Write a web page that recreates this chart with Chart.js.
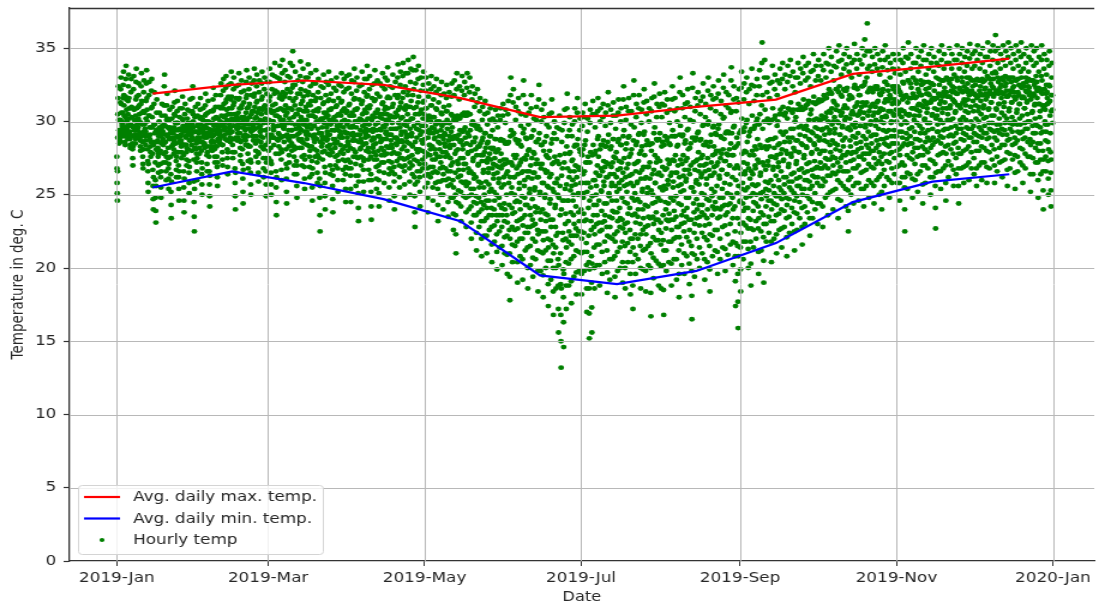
<!DOCTYPE html>
<html>
<head>
<meta charset="utf-8">
<title>Hourly temperature 2019</title>
<script src="https://cdn.jsdelivr.net/npm/chart.js@4.4.1/dist/chart.umd.min.js"></script>
<style>
  html, body { margin: 0; padding: 0; background: #fff; overflow: hidden; }
</style>
</head>
<body>
<!-- the source figure is stretched ~1.2x sideways, so the canvas is drawn 916 wide and shown 1099 wide -->
<canvas id="chart" width="916" height="603" style="display:block;width:1099px;height:603px"></canvas>
<script>
// hourly temp in tenths of deg C, read every 3 h (00,03,...,21) -> 8 values per day
const jan = [
276,258,246,289,316,324,301,285, 294,289,286,301,322,330,312,300,
299,295,290,306,325,334,318,304, 296,290,284,303,329,338,315,301,
300,294,288,305,324,332,316,302, 293,288,282,298,320,329,310,297,
290,281,270,296,322,331,308,294, 297,291,285,304,327,336,317,301,
298,294,289,302,318,326,311,300, 292,287,280,299,324,333,314,298,
286,276,268,293,320,328,306,291, 295,290,284,302,326,335,316,300,
281,266,252,290,318,327,304,288, 291,283,276,296,321,329,310,296,
278,256,240,284,312,320,298,286, 272,248,231,281,306,315,292,280,
287,276,265,290,300,306,296,290, 280,262,248,285,304,312,297,286,
293,284,272,298,324,332,311,297, 286,272,260,291,311,319,302,290,
282,268,254,288,301,308,296,288, 276,252,234,283,302,310,294,284,
292,285,278,296,313,321,304,294, 285,273,262,290,307,314,299,289,
279,262,246,286,303,309,295,285, 291,283,275,294,309,317,301,293,
277,255,238,284,305,312,296,284, 289,279,270,293,302,308,299,291,
281,265,251,287,307,315,299,287, 294,288,280,298,316,324,305,296,
274,245,225,282,303,310,293,281
];
const feb = [
285,272,260,289,304,312,298,288, 292,286,278,295,308,316,303,294,
280,264,250,286,301,309,296,284, 295,289,282,297,311,319,305,296,
289,277,266,292,306,314,300,290, 276,257,242,283,299,307,292,281,
294,287,280,299,315,323,308,297, 291,281,272,294,310,318,303,293,
283,269,256,288,302,310,297,286, 297,291,285,300,318,326,310,299,
290,279,270,297,321,329,312,295, 299,294,288,304,323,331,315,301,
287,275,264,293,317,325,309,292, 298,292,286,305,326,334,317,302,
293,284,275,300,322,330,313,297, 279,258,240,289,316,324,304,287,
300,295,289,306,325,333,316,302, 292,282,273,299,320,328,311,296,
281,261,244,290,313,321,303,288, 298,291,284,306,327,335,318,301,
290,278,268,298,322,330,312,295, 283,265,250,293,318,326,307,290,
299,294,287,307,328,336,319,302, 295,285,276,303,324,332,314,299,
287,272,259,296,320,328,309,293, 297,290,283,305,326,334,317,300,
289,275,262,299,322,330,311,294, 284,266,249,294,319,327,308,291
];
const mar = [
295,286,275,301,327,336,317,300, 282,265,250,291,322,332,311,289,
300,294,284,307,331,340,321,304, 278,255,236,288,320,330,308,287,
297,288,278,303,329,338,318,301, 289,274,260,298,333,342,320,296,
301,295,286,307,327,335,319,304, 281,261,244,291,322,331,309,289,
294,283,272,302,330,340,320,299, 299,290,280,308,338,348,325,303,
290,276,264,298,325,334,316,295, 282,264,248,291,319,328,308,288,
300,292,282,308,331,341,322,303, 294,282,270,301,327,336,317,298,
285,269,254,293,321,330,310,291, 301,293,284,307,330,339,320,304,
291,276,262,298,324,333,314,295, 283,264,246,290,318,326,307,288,
297,286,276,303,326,335,316,300, 288,272,258,295,320,329,309,292,
275,248,225,286,316,324,302,283, 296,285,274,302,323,332,313,299,
280,258,240,289,318,327,306,287, 298,288,278,304,325,334,315,301,
291,277,264,298,319,328,309,294, 279,256,238,288,314,323,303,285,
294,282,270,300,321,330,311,297, 286,268,252,294,316,325,305,290,
298,289,279,304,324,333,314,300, 289,274,260,296,320,329,309,293,
283,264,245,292,322,331,307,289
];
const apr = [
292,280,268,300,323,332,312,296, 282,263,245,291,319,328,306,287,
297,287,276,304,327,336,316,300, 287,271,256,296,321,330,309,291,
275,251,232,286,315,324,302,281, 294,282,270,301,325,334,314,297,
284,267,252,293,320,329,308,289, 300,291,280,306,329,338,318,302,
290,274,260,298,322,331,311,294, 276,252,233,287,316,325,304,282,
295,284,274,303,326,335,315,298, 285,269,254,294,319,328,308,290,
280,260,242,290,317,326,305,286, 294,282,272,302,324,333,313,297,
288,272,258,296,322,330,310,292, 298,288,278,305,328,337,317,301,
282,264,246,291,316,324,304,287, 291,278,266,299,323,332,312,295,
279,259,240,289,318,327,306,285, 295,284,273,304,330,339,318,299,
286,270,255,296,325,334,313,291, 293,281,269,303,331,340,320,298,
283,266,248,293,324,333,311,289, 297,286,275,305,333,342,321,300,
285,268,250,295,327,336,314,290, 292,277,264,302,335,344,322,297,
274,249,228,286,326,335,310,281, 289,273,259,299,329,338,317,294,
281,262,242,291,321,330,308,287, 293,280,268,302,325,334,314,297
];
const may = [
288,271,255,297,321,330,309,293, 278,258,238,289,317,326,304,284,
292,277,262,300,322,331,311,296, 283,265,246,292,315,324,303,288,
289,274,258,298,320,329,308,293, 276,254,232,286,313,322,300,281,
285,268,250,294,318,327,305,290, 279,260,240,288,310,319,299,285,
291,276,260,299,316,325,307,295, 277,256,235,287,311,320,299,282,
284,266,248,293,317,326,304,288, 272,248,226,284,318,328,302,278,
265,236,210,280,322,333,304,273, 281,262,244,291,315,324,302,286,
275,252,232,287,321,331,305,281, 284,267,249,294,318,327,304,289,
271,248,228,285,323,333,306,278, 279,258,240,290,320,330,305,284,
266,242,220,280,315,324,300,273, 275,254,236,286,310,319,297,281,
262,236,212,277,313,322,297,270, 271,248,228,283,307,316,294,277,
258,232,208,273,301,310,289,265, 267,243,222,279,305,314,292,273,
259,234,210,272,298,306,286,265, 268,246,226,278,301,309,290,274,
254,228,204,268,294,302,282,261, 264,240,218,275,300,308,288,270,
250,223,199,265,296,304,281,258, 261,236,214,273,301,309,288,268,
255,228,202,270,304,312,287,262
];
const jun = [
257,232,210,271,299,308,285,264, 250,222,196,266,305,314,286,258,
243,210,178,262,318,330,294,251, 255,228,204,270,313,322,292,262,
262,238,215,275,301,310,287,268, 246,218,190,264,307,316,287,254,
258,233,208,272,297,305,283,265, 249,220,192,266,318,328,295,256,
260,236,212,274,304,312,288,266, 243,214,186,262,298,306,281,251,
254,228,202,270,309,318,290,261, 247,220,194,265,294,302,278,253,
255,230,206,271,301,310,286,262, 241,212,184,262,315,325,292,250,
252,225,198,268,300,308,284,258, 240,210,180,258,303,312,286,248,
250,225,200,265,290,298,276,256, 236,205,174,255,296,305,280,244,
247,219,192,264,306,315,288,254, 233,200,168,252,292,300,276,241,
243,214,186,258,288,296,273,250, 224,188,156,248,295,304,277,236,
210,168,132,240,286,294,268,224, 219,180,146,246,299,308,278,230,
237,204,172,257,309,319,290,246, 246,218,188,262,294,303,279,253,
238,206,176,256,290,298,274,246, 250,222,194,266,300,309,284,257,
242,212,182,262,306,316,288,250, 251,225,198,267,294,302,279,258
];
const jul = [
240,210,182,258,297,306,281,248, 251,224,198,266,303,312,287,258,
233,202,170,252,293,302,276,241, 222,186,152,246,299,308,279,232,
226,190,156,249,305,314,284,236, 243,214,186,260,296,305,280,250,
256,230,202,270,307,316,290,263, 246,216,188,263,300,309,284,253,
252,226,196,266,303,312,287,259, 256,232,204,269,297,306,283,262,
244,212,183,262,311,320,291,251, 249,221,192,264,299,308,283,256,
258,234,206,272,304,313,288,264, 238,208,180,256,295,304,279,246,
252,225,198,267,306,315,288,258, 254,228,200,268,300,309,284,260,
248,218,190,265,315,324,294,256, 245,215,186,262,301,310,285,252,
257,231,204,271,307,316,290,263, 241,211,182,258,298,307,281,248,
236,204,172,256,318,328,296,246, 251,223,196,266,303,312,286,258,
259,235,206,273,309,318,292,265, 245,215,186,261,299,308,283,252,
254,226,199,269,313,322,293,261, 243,213,184,262,305,314,287,251,
255,229,202,269,300,309,284,261, 234,200,167,253,307,316,285,244,
250,221,193,267,317,326,296,258, 258,233,205,272,303,312,287,264,
248,219,188,265,310,319,292,255
];
const aug = [
246,216,186,263,303,312,286,253, 236,202,168,256,311,320,290,245,
254,227,198,268,306,315,289,260, 257,232,204,271,299,308,284,263,
248,218,188,265,315,324,294,255, 259,233,206,273,307,316,290,265,
249,221,192,265,300,309,284,256, 244,212,180,262,320,330,297,252,
257,230,202,271,309,318,291,263, 253,225,196,267,303,312,287,259,
261,235,208,275,313,322,295,267, 248,218,189,264,301,310,285,255,
233,198,165,255,323,333,300,244, 252,224,194,267,307,316,289,258,
260,234,206,274,311,320,293,266, 257,229,200,270,305,314,288,262,
264,238,210,277,317,326,298,270, 250,221,192,266,303,312,286,257,
261,234,204,275,321,330,300,267, 246,215,184,263,309,318,291,254,
263,236,208,277,315,324,297,269, 265,240,212,278,307,316,291,270,
256,226,196,272,319,328,298,263, 261,235,206,275,305,314,289,267,
267,242,214,281,323,332,303,273, 258,229,198,273,311,320,293,264,
264,238,209,277,309,318,292,270, 270,244,216,285,328,337,307,277,
262,234,202,277,315,324,297,268, 242,208,174,260,307,316,289,251,
234,196,159,256,313,322,292,245
];
const sep = [
246,214,184,264,323,334,302,254, 258,231,206,272,315,326,296,264,
266,241,218,279,320,330,301,271, 255,227,200,268,312,322,293,261,
249,218,188,266,325,336,304,257, 264,239,214,277,314,324,297,270,
268,244,220,281,318,329,302,274, 257,227,196,272,324,335,305,263,
265,238,212,282,340,354,318,272, 252,221,190,270,330,342,308,259,
267,242,218,281,320,330,302,273, 270,246,224,283,316,326,300,276,
260,232,204,276,327,338,309,267, 269,244,220,282,322,332,304,275,
263,236,210,277,318,328,300,269, 272,249,226,285,326,336,308,278,
266,240,214,281,329,340,310,273, 274,251,228,286,322,332,306,280,
262,234,208,278,327,338,309,269, 271,247,224,286,331,342,313,278,
276,253,230,289,324,334,308,282, 265,238,212,280,320,330,303,271,
273,249,226,287,330,340,312,279, 279,256,234,291,326,336,310,285,
268,241,216,284,333,344,315,275, 277,254,230,290,328,338,311,283,
282,260,238,294,330,340,314,288, 272,247,222,287,324,334,308,278,
279,256,234,292,335,346,317,285, 284,262,240,296,328,338,313,290
];
const oct = [
281,258,230,295,331,342,315,287, 289,268,244,301,328,338,314,294,
280,256,228,295,335,346,318,287, 291,270,248,303,330,340,316,296,
286,263,236,300,339,350,322,292, 294,274,252,306,334,344,319,298,
287,265,240,300,328,338,313,292, 295,275,254,308,337,348,322,300,
284,260,234,299,341,352,324,291, 291,269,246,304,332,342,317,296,
297,277,256,309,336,346,321,301, 289,266,242,303,339,350,323,295,
279,253,225,296,334,344,318,287, 294,273,250,305,330,340,316,298,
290,268,244,305,342,353,325,296, 299,279,258,311,336,346,322,304,
292,270,246,305,332,342,318,297, 297,276,254,310,339,350,324,302,
290,266,242,306,345,356,327,296, 298,278,256,313,348,367,336,304,
293,271,248,307,338,348,323,298, 300,280,258,311,334,344,320,304,
291,268,244,306,339,350,324,297, 301,282,260,313,336,346,322,306,
295,273,250,307,332,342,318,300, 288,264,240,303,337,348,322,294,
299,278,256,313,342,352,327,304, 303,284,262,315,335,344,321,307,
294,272,248,307,330,340,316,299, 300,279,258,312,336,346,322,305,
304,285,264,315,333,342,320,308
];
const nov = [
300,280,258,312,336,346,322,305, 293,270,246,307,332,342,318,298,
303,283,262,315,340,350,326,307, 285,255,225,300,334,344,318,292,
299,277,254,313,343,354,328,304, 305,285,264,316,336,346,323,309,
296,274,248,309,330,340,317,301, 304,282,260,316,340,350,326,308,
299,276,252,311,334,344,320,304, 307,287,266,318,338,348,325,311,
295,270,244,310,342,352,327,301, 302,281,258,313,332,342,319,306,
309,289,268,319,336,346,323,313, 299,274,250,313,340,350,326,304,
305,284,262,316,334,344,321,309, 286,256,227,302,330,340,316,293,
308,287,266,319,338,348,325,312, 301,278,254,314,342,352,328,306,
309,289,268,320,336,346,323,313, 295,270,246,309,330,340,317,301,
305,284,262,317,340,350,326,309, 311,291,270,321,336,346,324,315,
302,278,256,314,332,342,320,306, 307,286,264,319,342,352,328,311,
295,268,244,311,336,346,322,301, 309,288,268,321,340,350,327,313,
303,280,258,315,334,344,321,307, 311,291,270,322,338,348,326,315,
306,283,260,318,343,353,329,310, 310,289,268,321,336,346,324,314
];
const dec = [
307,286,264,319,338,348,325,311, 302,280,256,316,342,352,328,307,
310,290,270,321,336,346,324,314, 305,283,260,318,340,350,327,309,
311,292,272,322,334,344,323,315, 303,280,258,317,344,354,330,308,
309,289,268,321,338,348,326,313, 313,294,274,324,342,352,329,317,
304,281,258,319,348,359,333,309, 308,287,266,321,340,350,327,312,
312,292,272,323,336,346,325,316, 306,284,262,319,342,352,328,310,
313,294,274,324,338,348,326,317, 302,279,256,317,344,354,329,307,
309,288,268,321,340,350,327,313, 313,293,274,323,336,346,324,317,
300,277,254,315,342,352,328,306, 308,287,266,320,338,348,325,312,
312,292,272,324,344,354,330,316, 304,281,258,317,336,346,324,309,
309,289,268,321,340,350,327,313, 314,295,276,324,334,344,323,318,
300,276,252,315,342,352,328,306, 307,286,264,319,338,348,325,311,
312,292,272,323,340,350,327,316, 297,272,248,312,334,344,322,303,
307,285,264,320,342,352,328,311, 293,266,240,309,336,346,322,300,
308,287,266,319,332,342,320,312, 298,273,250,313,338,348,324,304,
292,265,242,307,330,340,318,299
];

// extra readings at 01:30, 04:30, 07:30, 10:30, 19:30 -> 5 values per day, tenths of deg C
const janX = [
268,251,266,305,294, 291,287,293,313,306, 297,292,298,316,311, 293,286,293,317,308,
296,291,297,314,309, 290,284,291,309,303, 285,275,283,309,301, 294,288,294,315,309,
296,291,296,310,305, 289,283,290,312,306, 281,271,281,307,298, 292,287,293,314,308,
273,258,271,304,296, 287,279,286,309,303, 267,247,262,298,292, 260,239,256,294,286,
282,270,278,295,293, 271,255,266,295,291, 288,278,285,311,304, 279,266,276,301,296,
275,261,271,295,292, 264,243,259,293,289, 288,281,287,305,299, 279,267,276,299,294,
270,254,266,295,290, 287,279,285,302,297, 266,246,261,295,290, 284,274,282,298,295,
273,258,269,297,293, 291,284,289,307,300, 259,235,254,293,287
];
const febX = [
278,266,275,297,293, 289,282,287,302,298, 272,257,268,294,290, 292,285,290,304,300,
283,271,279,299,295, 266,249,263,291,286, 290,283,290,307,302, 286,276,283,302,298,
276,262,272,295,291, 294,288,293,309,304, 284,274,284,309,303, 296,291,296,313,308,
281,269,279,305,300, 295,289,296,315,309, 288,279,288,311,305, 268,249,265,302,295,
297,292,298,315,309, 287,277,286,309,303, 271,252,267,301,295, 294,287,295,316,309,
284,273,283,310,303, 274,257,272,305,298, 296,290,297,317,310, 290,280,290,313,306,
279,265,278,308,301, 293,286,294,315,308, 282,268,281,310,302, 275,257,272,306,299
];
const marX = [
290,280,288,314,308, 273,257,271,306,300, 297,289,296,319,312, 266,245,262,304,297,
292,283,291,316,309, 281,267,279,315,308, 298,290,297,317,311, 271,252,268,306,299,
288,277,287,316,309, 294,285,294,323,314, 283,270,281,311,305, 273,256,270,305,298,
296,287,295,319,312, 288,276,286,314,307, 277,261,274,307,300, 297,288,296,318,312,
283,269,280,311,304, 273,255,268,304,297, 291,281,289,314,308, 280,265,277,307,300,
261,236,256,301,292, 290,279,288,312,306, 269,249,265,303,296, 293,283,291,314,308,
284,270,281,308,301, 267,247,263,300,294, 288,276,285,310,304, 277,260,273,305,297,
293,284,291,313,307, 281,267,278,308,301, 273,254,269,306,298
];
const aprX = [
286,274,284,311,304, 272,254,268,304,296, 292,281,290,315,308, 279,263,276,308,300,
263,241,259,300,291, 288,276,286,312,305, 275,259,273,306,298, 295,285,293,317,310,
282,267,279,309,302, 264,242,260,301,293, 289,279,288,314,306, 277,261,274,306,299,
270,251,266,303,295, 288,277,287,312,305, 280,265,277,308,301, 293,283,291,316,309,
273,255,268,303,295, 284,272,282,310,303, 269,249,264,303,295, 289,278,288,316,308,
278,262,275,310,302, 287,275,286,316,309, 274,257,270,308,300, 291,280,290,318,310,
276,259,272,310,302, 284,270,283,318,309, 262,238,257,305,295, 281,266,279,313,305,
271,252,266,306,297, 287,274,285,313,305
];
const mayX = [
279,263,276,309,301, 268,248,264,303,294, 284,269,281,311,303, 274,255,269,303,295,
281,266,278,309,300, 265,243,259,299,290, 276,259,272,306,297, 269,250,264,299,292,
283,268,279,307,301, 266,245,261,299,290, 275,257,270,305,296, 260,237,255,301,290,
250,223,245,301,288, 271,253,267,303,294, 263,242,259,304,293, 275,258,271,306,296,
259,238,256,304,292, 268,249,265,305,294, 254,231,250,298,286, 264,245,261,298,289,
249,224,244,295,283, 259,238,255,295,285, 245,220,240,287,277, 255,232,250,292,282,
246,222,241,285,275, 257,236,252,290,282, 241,216,236,281,271, 252,229,246,288,279,
236,211,232,280,269, 248,225,243,287,278, 241,215,236,287,274
];
const junX = [
244,221,240,285,274, 236,209,231,285,272, 226,194,220,290,272, 241,216,237,291,277,
250,226,245,288,277, 232,204,227,285,270, 245,220,240,284,274, 234,206,229,292,275,
248,224,243,289,277, 228,200,224,280,266, 241,215,236,289,275, 233,207,229,279,265,
242,218,238,286,274, 226,198,223,288,271, 238,211,233,284,271, 225,195,219,280,267,
237,212,232,277,266, 220,189,214,275,262, 233,205,228,285,271, 216,184,210,272,258,
228,200,222,273,261, 206,172,202,271,256, 189,150,186,263,246, 199,163,196,272,254,
220,188,214,283,268, 232,203,225,278,266, 222,191,216,273,260, 236,208,230,283,270,
227,197,222,284,269, 238,211,232,281,268
];
const julX = [
225,196,220,277,264, 237,211,232,284,272, 217,186,211,272,258, 204,169,199,272,255,
208,173,203,277,260, 228,200,223,278,265, 243,216,236,288,276, 231,202,225,281,268,
239,211,231,284,273, 244,218,236,283,272, 228,197,222,286,271, 235,206,228,281,269,
246,220,239,288,276, 223,194,218,275,262, 238,211,232,286,273, 241,214,234,284,272,
233,204,227,290,275, 230,200,224,281,268, 244,217,237,289,276, 226,196,220,278,264,
220,188,214,287,271, 237,209,231,284,272, 247,220,240,291,278, 230,200,223,280,267,
240,212,234,291,277, 228,198,223,284,269, 242,215,235,285,272, 217,183,210,280,264,
235,207,230,292,277, 245,219,238,288,275, 233,203,226,288,273
];
const augX = [
231,201,224,283,269, 219,185,212,284,267, 240,212,233,287,274, 244,218,237,285,273,
233,203,226,290,274, 246,220,239,290,277, 235,206,228,283,270, 228,196,221,291,274,
243,216,236,290,277, 239,210,231,285,273, 248,221,241,294,281, 233,203,226,282,270,
215,181,210,289,272, 238,209,230,287,273, 247,220,240,292,279, 243,214,235,287,275,
251,224,243,297,284, 236,206,229,284,271, 247,219,240,298,283, 230,199,223,286,272,
249,222,242,296,283, 252,226,245,292,280, 241,211,234,295,280, 248,220,240,290,278,
254,228,248,302,288, 243,213,236,292,278, 251,223,243,293,281, 257,230,250,306,292,
248,218,240,296,282, 225,191,217,283,270, 215,177,208,285,268
];
const sepX = [
230,199,224,294,278, 244,218,239,293,280, 253,229,248,299,286, 241,213,234,290,277,
233,203,227,295,280, 251,226,245,295,283, 256,232,250,300,288, 242,211,234,298,284,
251,225,247,311,295, 236,205,230,300,283, 254,230,249,300,287, 258,235,253,299,288,
246,218,240,301,288, 256,232,251,302,289, 249,223,243,297,284, 260,237,255,305,293,
253,227,247,305,291, 262,239,257,304,293, 248,221,243,302,289, 259,235,255,308,295,
264,241,259,306,295, 251,225,246,300,287, 261,237,256,308,296, 267,245,262,308,297,
254,228,250,308,295, 265,242,260,309,297, 271,249,266,312,301, 259,234,254,305,293,
267,245,263,313,301, 273,251,268,312,302
];
const octX = [
269,244,262,313,301, 278,256,272,314,304, 268,242,261,315,302, 280,259,275,316,306,
274,250,268,319,307, 284,263,279,320,309, 276,253,270,314,303, 285,264,281,322,311,
272,247,266,320,307, 280,258,275,318,306, 287,266,283,322,311, 277,254,272,321,309,
266,239,260,315,302, 283,262,278,317,307, 279,256,274,323,310, 289,268,285,323,313,
281,258,276,318,307, 286,265,282,324,313, 278,254,274,325,311, 288,267,284,330,320,
282,260,278,322,310, 290,269,285,322,312, 280,256,275,322,310, 291,271,287,324,314,
284,262,279,319,309, 276,252,271,320,308, 288,267,285,327,315, 293,273,289,325,314,
283,260,278,318,307, 290,268,285,324,313, 294,275,290,324,314
];
const novX = [
290,269,285,324,313, 281,258,277,320,308, 293,272,289,327,316, 270,240,262,317,305,
288,265,284,328,316, 295,275,290,326,316, 285,261,279,319,309, 293,271,288,328,317,
288,264,282,322,312, 297,277,292,328,318, 283,257,277,326,314, 292,270,286,322,312,
299,279,294,327,318, 287,262,282,326,315, 295,273,289,325,315, 271,241,265,316,304,
298,277,293,329,318, 290,266,285,328,317, 299,279,294,328,318, 283,258,278,320,309,
295,273,290,328,317, 301,281,296,329,320, 290,267,285,323,313, 297,275,292,330,319,
282,256,278,323,311, 299,278,295,330,320, 292,269,287,324,314, 301,281,296,330,320,
295,272,289,330,319, 300,279,295,328,319
];
const decX = [
297,275,292,328,318, 291,268,286,329,317, 300,280,296,328,319, 294,272,289,329,318,
302,282,297,328,319, 292,269,288,331,319, 299,279,295,329,319, 304,284,299,333,323,
293,270,289,334,321, 298,276,294,330,319, 302,282,298,329,320, 295,273,291,330,319,
304,284,299,331,321, 291,267,287,330,318, 299,278,295,330,320, 303,284,298,330,320,
289,265,285,328,317, 298,276,293,329,318, 302,282,298,334,323, 293,270,288,326,316,
299,278,295,330,320, 305,286,300,329,320, 288,264,284,328,317, 297,275,292,328,318,
302,282,298,331,321, 285,260,280,323,312, 296,274,292,331,319, 280,253,274,322,311,
298,276,293,325,316, 286,261,281,325,314, 279,253,274,318,308
];

const monthStart = [0, 31, 59, 90, 120, 151, 181, 212, 243, 273, 304, 334];
const readingHours = [0, 3, 6, 9, 12, 15, 18, 21];
const extraHours = [1.5, 4.5, 7.5, 10.5, 19.5];

// monthly averages of daily max / min, placed on the 15th of each month (day of year)
const midMonthDay = [14, 45, 73, 104, 134, 165, 195, 226, 257, 287, 318, 348];
const avgMax = [31.9, 32.5, 32.8, 32.5, 31.6, 30.3, 30.4, 31.0, 31.5, 33.25, 33.75, 34.3];
const avgMin = [25.5, 26.6, 25.8, 24.7, 23.2, 19.5, 18.9, 19.8, 21.7, 24.5, 25.9, 26.4];

// axis ticks
const tickDays = [0, 59, 120, 181, 243, 304, 365];
const tickLabels = ['2019-Jan', '2019-Mar', '2019-May', '2019-Jul', '2019-Sep', '2019-Nov', '2020-Jan'];
const yTicks = [0, 5, 10, 15, 20, 25, 30, 35];

const FONT = 'DejaVu Sans';
const TEXT = '#262626';
const SPINE = '#333333';

const months = [jan, feb, mar, apr, may, jun, jul, aug, sep, oct, nov, dec];
const monthsX = [janX, febX, marX, aprX, mayX, junX, julX, augX, sepX, octX, novX, decX];
const hourly = [];
function addReadings(list, hours) {
  list.forEach((vals, m) => {
    vals.forEach((v, i) => {
      const day = Math.floor(i / hours.length);
      hourly.push({ x: monthStart[m] + day + hours[i % hours.length] / 24, y: v / 10 });
    });
  });
}
addReadings(months, readingHours);
addReadings(monthsX, extraHours);

// matplotlib draws the grid over the scatter but under the lines
const gridOverDots = {
  id: 'gridOverDots',
  afterDatasetDraw(chart, args) {
    if (args.meta.type !== 'scatter') return;
    const { ctx, chartArea: a, scales } = chart;
    ctx.save();
    ctx.beginPath();
    ctx.rect(a.left, a.top, a.right - a.left, a.bottom - a.top);
    ctx.clip();
    ctx.strokeStyle = '#b8b8b8';
    ctx.lineWidth = 1;
    ctx.beginPath();
    yTicks.forEach(v => {
      const py = Math.round(scales.y.getPixelForValue(v)) + 0.5;
      ctx.moveTo(a.left, py); ctx.lineTo(a.right, py);
    });
    tickDays.forEach(d => {
      const px = Math.round(scales.x.getPixelForValue(d)) + 0.5;
      ctx.moveTo(px, a.top); ctx.lineTo(px, a.bottom);
    });
    ctx.stroke();
    ctx.restore();
  }
};

// top spine + legend box in the lower left corner
const frameAndLegend = {
  id: 'frameAndLegend',
  afterDraw(chart) {
    const { ctx, chartArea: a } = chart;
    ctx.save();
    ctx.strokeStyle = SPINE;
    ctx.lineWidth = 1.3;
    ctx.beginPath();
    ctx.moveTo(a.left, a.top + 0.5); ctx.lineTo(a.right, a.top + 0.5);
    ctx.stroke();

    const bx = 65, by = 485, bw = 204, bh = 69;
    ctx.fillStyle = 'rgba(255,255,255,0.8)';
    ctx.strokeStyle = '#d4d4d4';
    ctx.lineWidth = 1;
    ctx.beginPath();
    ctx.roundRect(bx + 0.5, by + 0.5, bw, bh, 3);
    ctx.fill();
    ctx.stroke();

    ctx.font = `14px "${FONT}"`;
    ctx.textBaseline = 'middle';
    ctx.textAlign = 'left';
    const rowY = [497, 518.5, 540];
    chart.data.datasets.forEach((ds, i) => {
      const y = rowY[i];
      if (ds.type === 'line') {
        ctx.strokeStyle = ds.borderColor;
        ctx.lineWidth = 2.2;
        ctx.beginPath();
        ctx.moveTo(70, y); ctx.lineTo(100, y);
        ctx.stroke();
      } else {
        ctx.fillStyle = ds.backgroundColor;
        ctx.beginPath();
        ctx.arc(85, y, 2.1, 0, Math.PI * 2);
        ctx.fill();
      }
      ctx.fillStyle = TEXT;
      ctx.fillText(ds.label, 111, y + 0.5);
    });
    ctx.restore();
  }
};

new Chart(document.getElementById('chart'), {
  type: 'scatter',
  data: {
    datasets: [
      {
        type: 'line',
        label: 'Avg. daily max. temp.',
        data: midMonthDay.map((d, i) => ({ x: d, y: avgMax[i] })),
        borderColor: '#ff0000',
        borderWidth: 2.2,
        pointRadius: 0,
        tension: 0,
        fill: false,
        order: 0
      },
      {
        type: 'line',
        label: 'Avg. daily min. temp.',
        data: midMonthDay.map((d, i) => ({ x: d, y: avgMin[i] })),
        borderColor: '#0000ff',
        borderWidth: 2.2,
        pointRadius: 0,
        tension: 0,
        fill: false,
        order: 0
      },
      {
        type: 'scatter',
        label: 'Hourly temp',
        data: hourly,
        backgroundColor: '#008000',
        borderColor: '#008000',
        borderWidth: 0,
        pointRadius: 2.45,
        order: 1
      }
    ]
  },
  options: {
    responsive: false,
    devicePixelRatio: 1,
    animation: false,
    events: [],
    layout: { padding: { top: 8, left: 0, right: 0, bottom: 0 } },
    plugins: { legend: { display: false }, tooltip: { enabled: false } },
    scales: {
      x: {
        type: 'linear',
        min: -18.4,
        max: 381.1,
        afterBuildTicks: s => { s.ticks = tickDays.map(v => ({ value: v })); },
        afterFit: s => { s.height = 42; s.paddingLeft = 0; s.paddingRight = 0; },
        grid: { drawOnChartArea: false, drawTicks: true, tickLength: 5, tickColor: SPINE, tickWidth: 1 },
        border: { display: true, color: SPINE, width: 1.3 },
        ticks: {
          autoSkip: false, maxRotation: 0, padding: 4,
          color: TEXT, font: { family: FONT, size: 14 },
          callback: (v, i) => tickLabels[i]
        },
        title: { display: true, text: 'Date', color: TEXT, font: { family: FONT, size: 13.5 }, padding: { top: 0, bottom: -3 } }
      },
      y: {
        type: 'linear',
        min: 0,
        max: 37.75,
        afterBuildTicks: s => { s.ticks = yTicks.map(v => ({ value: v })); },
        afterFit: s => { s.width = 58; s.paddingTop = 0; s.paddingBottom = 0; },
        grid: { drawOnChartArea: false, drawTicks: true, tickLength: 5, tickColor: SPINE, tickWidth: 1.2 },
        border: { display: true, color: SPINE, width: 1.3 },
        ticks: { padding: 6, color: TEXT, font: { family: FONT, size: 14 } },
        title: { display: true, text: 'Temperature in deg. C', color: TEXT, font: { family: FONT, size: 13.5 }, padding: { top: 7, bottom: 0 } }
      }
    }
  },
  plugins: [gridOverDots, frameAndLegend]
});
</script>
</body>
</html>
